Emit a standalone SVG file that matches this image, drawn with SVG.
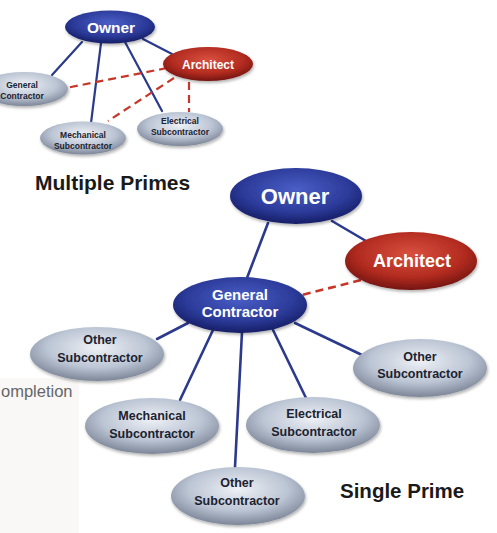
<svg xmlns="http://www.w3.org/2000/svg" width="497" height="533" viewBox="0 0 497 533">
<defs>
<radialGradient id="gBlue" cx="50%" cy="38%" r="62%">
<stop offset="0" stop-color="#4a5ec6"/><stop offset="0.65" stop-color="#2c3b9a"/><stop offset="1" stop-color="#161e66"/>
</radialGradient>
<radialGradient id="gRed" cx="50%" cy="38%" r="62%">
<stop offset="0" stop-color="#d9503f"/><stop offset="0.65" stop-color="#b22b20"/><stop offset="1" stop-color="#741510"/>
</radialGradient>
<radialGradient id="gGrey" cx="50%" cy="38%" r="62%">
<stop offset="0" stop-color="#eef1f6"/><stop offset="0.6" stop-color="#bcc5d4"/><stop offset="1" stop-color="#7c8698"/>
</radialGradient>
<filter id="sh" x="-20%" y="-20%" width="140%" height="160%">
<feDropShadow dx="1" dy="2" stdDeviation="1.5" flood-color="#000" flood-opacity="0.3"/>
</filter>
<style>
.blue{fill:url(#gBlue);filter:url(#sh)}
.red{fill:url(#gRed);filter:url(#sh)}
.grey{fill:url(#gGrey);filter:url(#sh)}
.ln{stroke:#2b3a8c;fill:none;stroke-linecap:round}
.dash{stroke:#c8362a;fill:none;stroke-dasharray:8 5}
text{font-family:"Liberation Sans",Arial,sans-serif;font-weight:bold;text-anchor:middle}
.wt{fill:#ffffff}
.dk{fill:#1c2230}
.lbl{fill:#1a1a1a;text-anchor:start}
</style>
</defs>
<rect x="0" y="378" width="79" height="155" fill="#f9f8f6"/>
<text x="1" y="397" style="font-weight:normal;text-anchor:start;font-size:16.5px;fill:#666">ompletion</text>
<g id="connectors">
<g stroke-width="2.2">
<line class="ln" x1="82" y1="42" x2="52" y2="75"/>
<line class="ln" x1="101" y1="43" x2="91" y2="123"/>
<line class="ln" x1="125" y1="42" x2="162" y2="111"/>
<line class="ln" x1="143" y1="39" x2="172" y2="54"/>
<line class="dash" x1="167" y1="68" x2="66" y2="88"/>
<line class="dash" x1="174" y1="78" x2="108" y2="121"/>
<line class="dash" x1="189" y1="82" x2="189" y2="112"/>
</g>
<g stroke-width="2.6">
<line class="ln" x1="268" y1="223" x2="247" y2="278"/>
<line class="ln" x1="332" y1="221" x2="366" y2="241"/>
<line class="dash" x1="361" y1="280" x2="302" y2="295"/>
<line class="ln" x1="188" y1="323" x2="157" y2="339"/>
<line class="ln" x1="213" y1="330" x2="180" y2="400"/>
<line class="ln" x1="242" y1="332" x2="235" y2="467"/>
<line class="ln" x1="273" y1="330" x2="306" y2="398"/>
<line class="ln" x1="295" y1="323" x2="362" y2="355"/>
</g>
</g>
<g id="top-owner"><ellipse class="blue" cx="110" cy="27" rx="45" ry="16.5"/><text class="wt" x="111" y="32.5" font-size="15.5">Owner</text></g>
<g id="top-architect"><ellipse class="red" cx="208" cy="64" rx="45" ry="17"/><text class="wt" x="208" y="68.5" font-size="12">Architect</text></g>
<g id="top-general"><ellipse class="grey" cx="24" cy="89" rx="44" ry="17"/><text class="dk" x="22" y="88" font-size="8.5">General</text><text class="dk" x="22" y="99" font-size="8.5">Contractor</text></g>
<g id="top-mechanical"><ellipse class="grey" cx="83" cy="138" rx="43" ry="16.5"/><text class="dk" x="83" y="137.5" font-size="8.5">Mechanical</text><text class="dk" x="83" y="148.5" font-size="8.5">Subcontractor</text></g>
<g id="top-electrical"><ellipse class="grey" cx="180" cy="129" rx="43" ry="17"/><text class="dk" x="180" y="124" font-size="8.5">Electrical</text><text class="dk" x="180" y="135" font-size="8.5">Subcontractor</text></g>
<text class="lbl" x="35" y="190" font-size="21">Multiple Primes</text>
<g id="owner"><ellipse class="blue" cx="296" cy="196" rx="66" ry="28"/><text class="wt" x="295" y="203.5" font-size="22">Owner</text></g>
<g id="architect"><ellipse class="red" cx="411" cy="261" rx="66" ry="29"/><text class="wt" x="412" y="267" font-size="18">Architect</text></g>
<g id="general-contractor"><ellipse class="blue" cx="240" cy="305" rx="67" ry="28"/><text class="wt" x="240" y="300" font-size="15">General</text><text class="wt" x="240" y="317" font-size="15">Contractor</text></g>
<g id="other-left"><ellipse class="grey" cx="97" cy="354" rx="67" ry="27"/><text class="dk" x="100" y="344" font-size="12.5">Other</text><text class="dk" x="100" y="362" font-size="12.5">Subcontractor</text></g>
<g id="other-right"><ellipse class="grey" cx="420" cy="368" rx="67" ry="29"/><text class="dk" x="420" y="361" font-size="12.5">Other</text><text class="dk" x="420" y="378" font-size="12.5">Subcontractor</text></g>
<g id="mechanical"><ellipse class="grey" cx="152" cy="426" rx="67" ry="28"/><text class="dk" x="152" y="420" font-size="12.5">Mechanical</text><text class="dk" x="152" y="438" font-size="12.5">Subcontractor</text></g>
<g id="electrical"><ellipse class="grey" cx="313" cy="425" rx="67" ry="28"/><text class="dk" x="314" y="418" font-size="12.5">Electrical</text><text class="dk" x="314" y="436" font-size="12.5">Subcontractor</text></g>
<g id="other-bottom"><ellipse class="grey" cx="238" cy="496" rx="67" ry="29"/><text class="dk" x="237" y="487" font-size="12.5">Other</text><text class="dk" x="237" y="505" font-size="12.5">Subcontractor</text></g>
<text class="lbl" x="340" y="498" font-size="20.5">Single Prime</text>
</svg>
